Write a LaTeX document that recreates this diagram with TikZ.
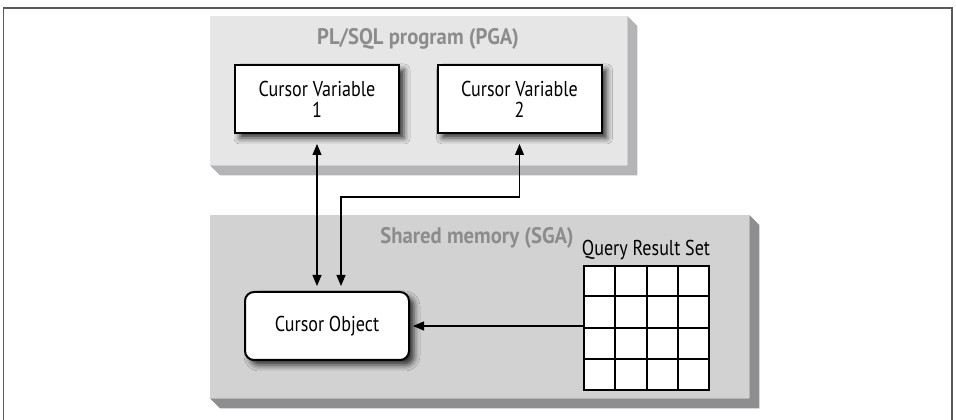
\documentclass[tikz,border=0pt]{standalone}
\usepackage{fontspec}
\setmainfont[FakeStretch=0.84]{PT Sans}
\newfontfamily\titlefont[FakeStretch=0.92]{PT Sans}
\usetikzlibrary{calc,arrows.meta,shadows.blur,positioning}

\definecolor{pgafront}{HTML}{E6E6E6}
\definecolor{pgaside}{HTML}{B4B4B6}
\definecolor{sgafront}{HTML}{D2D2D3}
\definecolor{sgaside}{HTML}{8E8E90}
\definecolor{titlegray}{HTML}{8C8C8C}
\definecolor{framegray}{HTML}{5A5A5A}

\begin{document}
\begin{tikzpicture}[x=1pt,y=1pt,
  font=\fontsize{21.5}{21}\selectfont,
  area/.style={inner sep=0pt,anchor=north west},
  box/.style={draw,line width=2pt,fill=white,minimum width=164pt,minimum height=68pt,align=center,
    blur shadow={shadow xshift=5pt,shadow yshift=-5pt,shadow blur radius=6pt,shadow opacity=80}},
  title/.style={font=\fontsize{22.5}{22}\titlefont\bfseries,text=titlegray},
  link/.style={line width=1.2pt,{Triangle[length=11pt,width=9pt]}-{Triangle[length=11pt,width=9pt]}}
]
\useasboundingbox (0,0) rectangle (956,420);

% frame
\draw[framegray,line width=1.5pt] (3.5,0) -- (3.5,412) -- (952,412) -- (952,0);

% PGA panel
\node[area,fill=pgafront,minimum width=417pt,minimum height=149pt] (pga) at (210,404) {};
\fill[pgaside] (pga.north east) -- ++(10,-10) -- ($(pga.south east)+(10,-10)$)
  -- ($(pga.south west)+(10,-10)$) -- (pga.south west) -- (pga.south east) -- cycle;
\node[title] (pgatitle) at (418,381) {PL/SQL program (PGA)};

% SGA panel
\node[area,fill=sgafront,minimum width=539pt,minimum height=183pt] (sga) at (210,205) {};
\fill[sgaside] (sga.north east) -- ++(10,-10) -- ($(sga.south east)+(10,-10)$)
  -- ($(sga.south west)+(10,-10)$) -- (sga.south west) -- (sga.south east) -- cycle;
\node[title] (sgatitle) at (477,182.5) {Shared memory (SGA)};

% cursor variables
\node[box] (cv1) at (317,321) {Cursor Variable\\1};
\node[box] (cv2) at (519.5,321) {Cursor Variable\\2};

% cursor object
\node[box,rounded corners=9pt] (co) at (327,94) {Cursor Object};

% result set
\node[draw,line width=2pt,fill=white,minimum width=125pt,minimum height=124pt] (qrs) at (646.5,92) {};
\foreach \i in {1,2,3} {
  \draw[line width=2pt] ($(qrs.north west)!\i/4!(qrs.north east)$) -- ($(qrs.south west)!\i/4!(qrs.south east)$);
  \draw[line width=2pt] ($(qrs.north west)!\i/4!(qrs.south west)$) -- ($(qrs.north east)!\i/4!(qrs.south east)$);
}
\node (qrslabel) at (646,170) {Query Result Set};

% connectors
\draw[link,shorten <=10pt,shorten >=5pt] (cv1.south) -- (cv1.south |- co.north);
\draw[link,shorten <=10pt,shorten >=5pt] (cv2.south) -- ++(0,-63) -| ([xshift=14pt]co.north);
\draw[line width=1.2pt,-{Triangle[length=11pt,width=9pt]},shorten >=3pt] (qrs.west |- co.east) -- (co.east);

\end{tikzpicture}
\end{document}
